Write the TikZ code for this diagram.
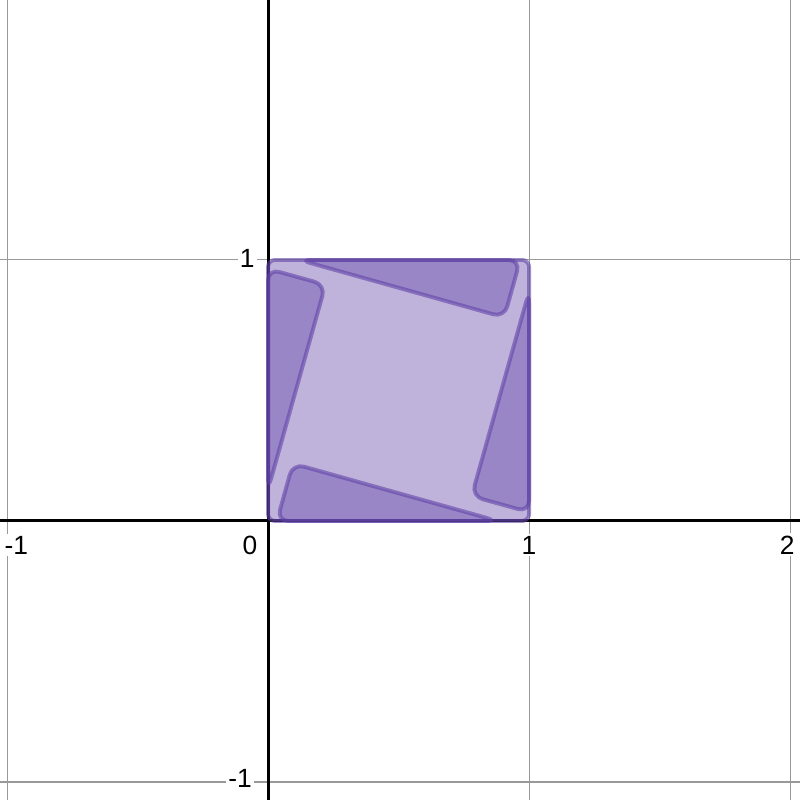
\documentclass[tikz,border=0pt]{standalone}
\usepackage{fontspec}
\setmainfont{Liberation Sans}
\usepackage{xcolor}
\usetikzlibrary{arrows.meta,positioning,calc}
\definecolor{regionpurple}{RGB}{96,66,166}
\tikzset{
  gridline/.style={draw=gray!80,line width=.45pt},
  axisline/.style={draw=black,line width=1.3pt},
  ticklabel/.style={fill=white,inner sep=1pt,font=\fontsize{11.5}{13}\selectfont},
  region/.style={fill=regionpurple,fill opacity=.4,draw=regionpurple,draw opacity=.6,
    line width=1.7pt,line join=round,rounded corners=5pt}
}

\begin{document}
\begin{tikzpicture}[x=4cm,y=4cm]
  \useasboundingbox (-1.027,-1.069) rectangle (2.038,1.996);
  % grid
  \draw[gridline] (-1,-1.069) -- (-1,1.996);
  \draw[gridline] (1,-1.069) -- (1,1.996);
  \draw[gridline] (2,-1.069) -- (2,1.996);
  \draw[gridline] (-1.027,1) -- (2.038,1);
  \draw[gridline] (-1.027,-1) -- (2.038,-1);
  % axes
  \draw[axisline] (-1.027,0) -- (2.038,0);
  \draw[axisline] (0,-1.069) -- (0,1.996);
  \node[ticklabel] (xm1) at (-0.964,-0.092) {-1};
  \node[ticklabel] (x0) at (-0.069,-0.095) {0};
  \node[ticklabel] (x1) at (1.0,-0.092) {1};
  \node[ticklabel] (x2) at (1.989,-0.092) {2};
  \node[ticklabel] (y1) at (-0.080,1.004) {1};
  \node[ticklabel] (ym1) at (-0.107,-0.985) {-1};
  % square and the four triangles
  \draw[region,rounded corners=3pt] (0,0) rectangle (1,1);
  \draw[region] (0.12,1) -- (0.966,1) -- (0.905,0.78) -- cycle;
  \draw[region] (0,0.12) -- (0,0.966) -- (0.22,0.905) -- cycle;
  \draw[region] (0.88,0) -- (0.034,0) -- (0.095,0.22) -- cycle;
  \draw[region] (1,0.88) -- (1,0.034) -- (0.78,0.095) -- cycle;
\end{tikzpicture}
\end{document}
